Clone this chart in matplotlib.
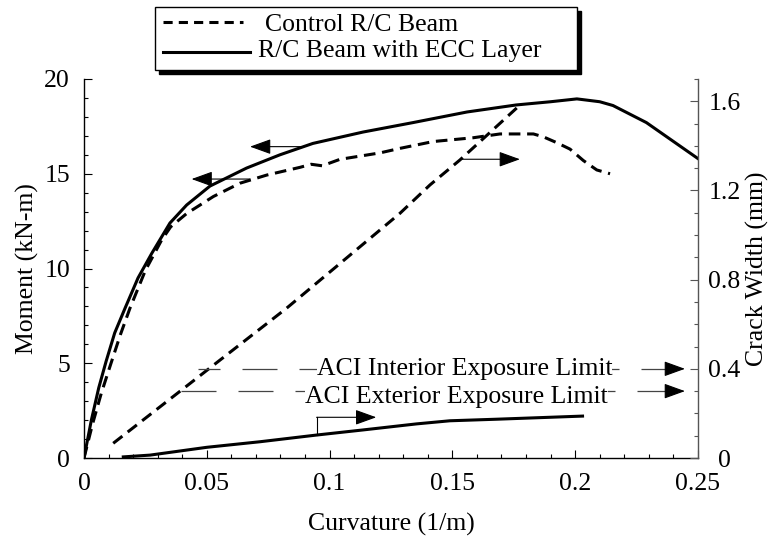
import matplotlib.pyplot as plt
from matplotlib.patches import Rectangle
from matplotlib.lines import Line2D
from matplotlib.ticker import MultipleLocator

plt.rcParams['font.family'] = 'Liberation Serif'
plt.rcParams['font.size'] = 18.5

# moment vs curvature, R/C beam with ECC layer
curv_ecc = [0, 0.003, 0.006, 0.009, 0.0125, 0.0167, 0.022, 0.0276, 0.035, 0.0418, 0.0513,
            0.0662, 0.0798, 0.0932, 0.1136, 0.134, 0.156, 0.176, 0.190, 0.2007, 0.210,
            0.2154, 0.229, 0.25]
moment_ecc = [0, 2.0, 3.7, 5.1, 6.6, 7.9, 9.5, 10.8, 12.4, 13.35, 14.35,
              15.3, 16.0, 16.6, 17.2, 17.7, 18.26, 18.63, 18.8, 18.95, 18.8,
              18.6, 17.7, 15.8]

# moment vs curvature, control R/C beam
curv_ctrl = [0, 0.0035, 0.007, 0.011, 0.0148, 0.0187, 0.025, 0.0316, 0.0353, 0.0418,
             0.0527, 0.0635, 0.0744, 0.088, 0.0925, 0.097, 0.1042, 0.1205, 0.1287, 0.1422,
             0.1585, 0.1694, 0.183, 0.187, 0.1925, 0.1979, 0.2033, 0.2088, 0.2142]
moment_ctrl = [0, 1.8, 3.4, 5.0, 6.5, 7.9, 9.9, 11.5, 12.2, 12.9,
               13.8, 14.5, 14.93, 15.34, 15.5, 15.42, 15.76, 16.1, 16.34, 16.7,
               16.9, 17.1, 17.1, 16.95, 16.64, 16.3, 15.7, 15.2, 15.0]

# crack width vs curvature
crack_curv_ctrl = [0.0119, 0.0825, 0.1287, 0.1409, 0.1531, 0.1768]
crack_w_ctrl = [0.066, 0.672, 1.098, 1.225, 1.337, 1.576]
crack_curv_ecc = [0.016, 0.0228, 0.0269, 0.05, 0.0717, 0.0947, 0.1137, 0.1354, 0.149, 0.168, 0.203]
crack_w_ecc = [0.005, 0.010, 0.013, 0.048, 0.073, 0.103, 0.126, 0.153, 0.167, 0.174, 0.188]

# ACI crack width limits (mm)
aci_interior = 0.4
aci_exterior = 0.3

x_ticks = [0, 0.05, 0.1, 0.15, 0.2, 0.25]
x_labels = ['0', '0.05', '0.1', '0.15', '0.2', '0.25']
m_ticks = [0, 5, 10, 15, 20]
m_labels = ['0', '5', '10', '15', '20']
w_ticks = [0, 0.4, 0.8, 1.2, 1.6]
w_labels = ['0', '0.4', '0.8', '1.2', '1.6']

fig = plt.figure(figsize=(7.72, 5.37), dpi=100)
ax = fig.add_axes([0.1088, 0.1471, 0.7953, 0.7058])
ax2 = ax.twinx()

curve_kw = dict(color='k', lw=2.2)
dash = (0, (3.8, 2.2))
ax.plot(curv_ecc, moment_ecc, **curve_kw)
ax.plot(curv_ctrl, moment_ctrl, linestyle=dash, **curve_kw)
ax2.plot(crack_curv_ecc, crack_w_ecc, **curve_kw)
ax2.plot(crack_curv_ctrl, crack_w_ctrl, linestyle=dash, **curve_kw)

ax.set_xlim(0, 0.25)
ax.set_ylim(0, 20)
ax2.set_ylim(0, 1.7)

ax.set_xticks(x_ticks, x_labels)
ax.set_yticks(m_ticks, m_labels)
ax2.set_yticks(w_ticks, w_labels)
ax.xaxis.set_minor_locator(MultipleLocator(0.01))
ax.yaxis.set_minor_locator(MultipleLocator(1))
ax2.yaxis.set_minor_locator(MultipleLocator(0.1))

for a in (ax, ax2):
    a.spines['top'].set_visible(False)
ax.spines['right'].set_visible(False)
ax2.spines['left'].set_visible(False)
ax2.spines['bottom'].set_visible(False)
ax.spines['left'].set_linewidth(1.0)
ax.spines['bottom'].set_linewidth(1.0)
ax2.spines['right'].set_color('#555555')
ax2.spines['right'].set_linewidth(1.0)

ax.tick_params(which='both', direction='in', top=False, right=False, width=0.8)
ax.tick_params(which='major', length=5.8)
ax.tick_params(which='minor', length=2.9)
ax.tick_params(axis='x', pad=11)
ax.tick_params(axis='y', pad=10)
ax2.tick_params(which='both', direction='in', color='#555555', width=0.8)
ax2.tick_params(which='major', length=5.8, pad=19)
ax2.tick_params(which='minor', length=2.9)
for t in ax2.get_yticklabels():
    t.set_horizontalalignment('center')

ax.set_xlabel('Curvature (1/m)')
ax.set_ylabel('Moment (kN-m)')
ax2.set_ylabel('Crack Width (mm)')
ax.xaxis.set_label_coords(0.5, -0.145)
ax.yaxis.set_label_coords(-0.074, 0.5)
ax2.yaxis.set_label_coords(1.078, 0.5)


def arrow(a, tail, tip):
    a.annotate('', xy=tip, xytext=tail,
               arrowprops=dict(arrowstyle='-|>,head_length=1.3,head_width=0.47',
                               mutation_scale=10, lw=0.8, color='k',
                               shrinkA=0, shrinkB=0))


# arrows pointing each curve to its axis
arrow(ax, (0.089, 16.43), (0.0676, 16.43))
arrow(ax, (0.0676, 14.72), (0.0438, 14.72))
arrow(ax2, (0.1538, 1.34), (0.1775, 1.34))
ax2.plot([0.0947, 0.0947], [0.103, 0.1826], color='k', lw=0.8)
arrow(ax2, (0.0947, 0.1826), (0.119, 0.1826))

# ACI exposure limits
lim_kw = dict(color='#444444', lw=0.9)
ax2.plot([0.0465, 0.2405], [aci_interior] * 2, linestyle=(10.4, (28, 17.6)), **lim_kw)
ax2.plot([0.0397, 0.2405], [aci_exterior] * 2, linestyle=(0, (28, 17.6)), **lim_kw)
arrow(ax2, (0.2375, aci_interior), (0.2447, aci_interior))
arrow(ax2, (0.2375, aci_exterior), (0.2447, aci_exterior))
box = dict(facecolor='white', edgecolor='none', pad=0)
ax2.text(0.0947, aci_interior - 0.028, 'ACI Interior Exposure Limit',
         ha='left', va='baseline', bbox=box, zorder=5)
ax2.text(0.090, aci_exterior - 0.053, 'ACI Exterior Exposure Limit',
         ha='left', va='baseline', bbox=box, zorder=5)

# legend box with drop shadow
fig.patches.append(Rectangle((0.2060, 0.8622), 0.5466, 0.1178, transform=fig.transFigure,
                             facecolor='k', edgecolor='k', lw=1.0))
fig.patches.append(Rectangle((0.2008, 0.8696), 0.5466, 0.1178, transform=fig.transFigure,
                             facecolor='white', edgecolor='k', lw=1.0))
fig.lines.append(Line2D([0.2111, 0.3148], [0.9596, 0.9596], transform=fig.transFigure,
                        color='k', lw=2.2, linestyle=(0, (3, 2))))
fig.lines.append(Line2D([0.2111, 0.3238], [0.9032, 0.9032], transform=fig.transFigure,
                        color='k', lw=2.2))
fig.text(0.3433, 0.9432, 'Control R/C Beam', va='baseline')
fig.text(0.3342, 0.8939, 'R/C Beam with ECC Layer', va='baseline')

fig.savefig('out.png', dpi=100)
